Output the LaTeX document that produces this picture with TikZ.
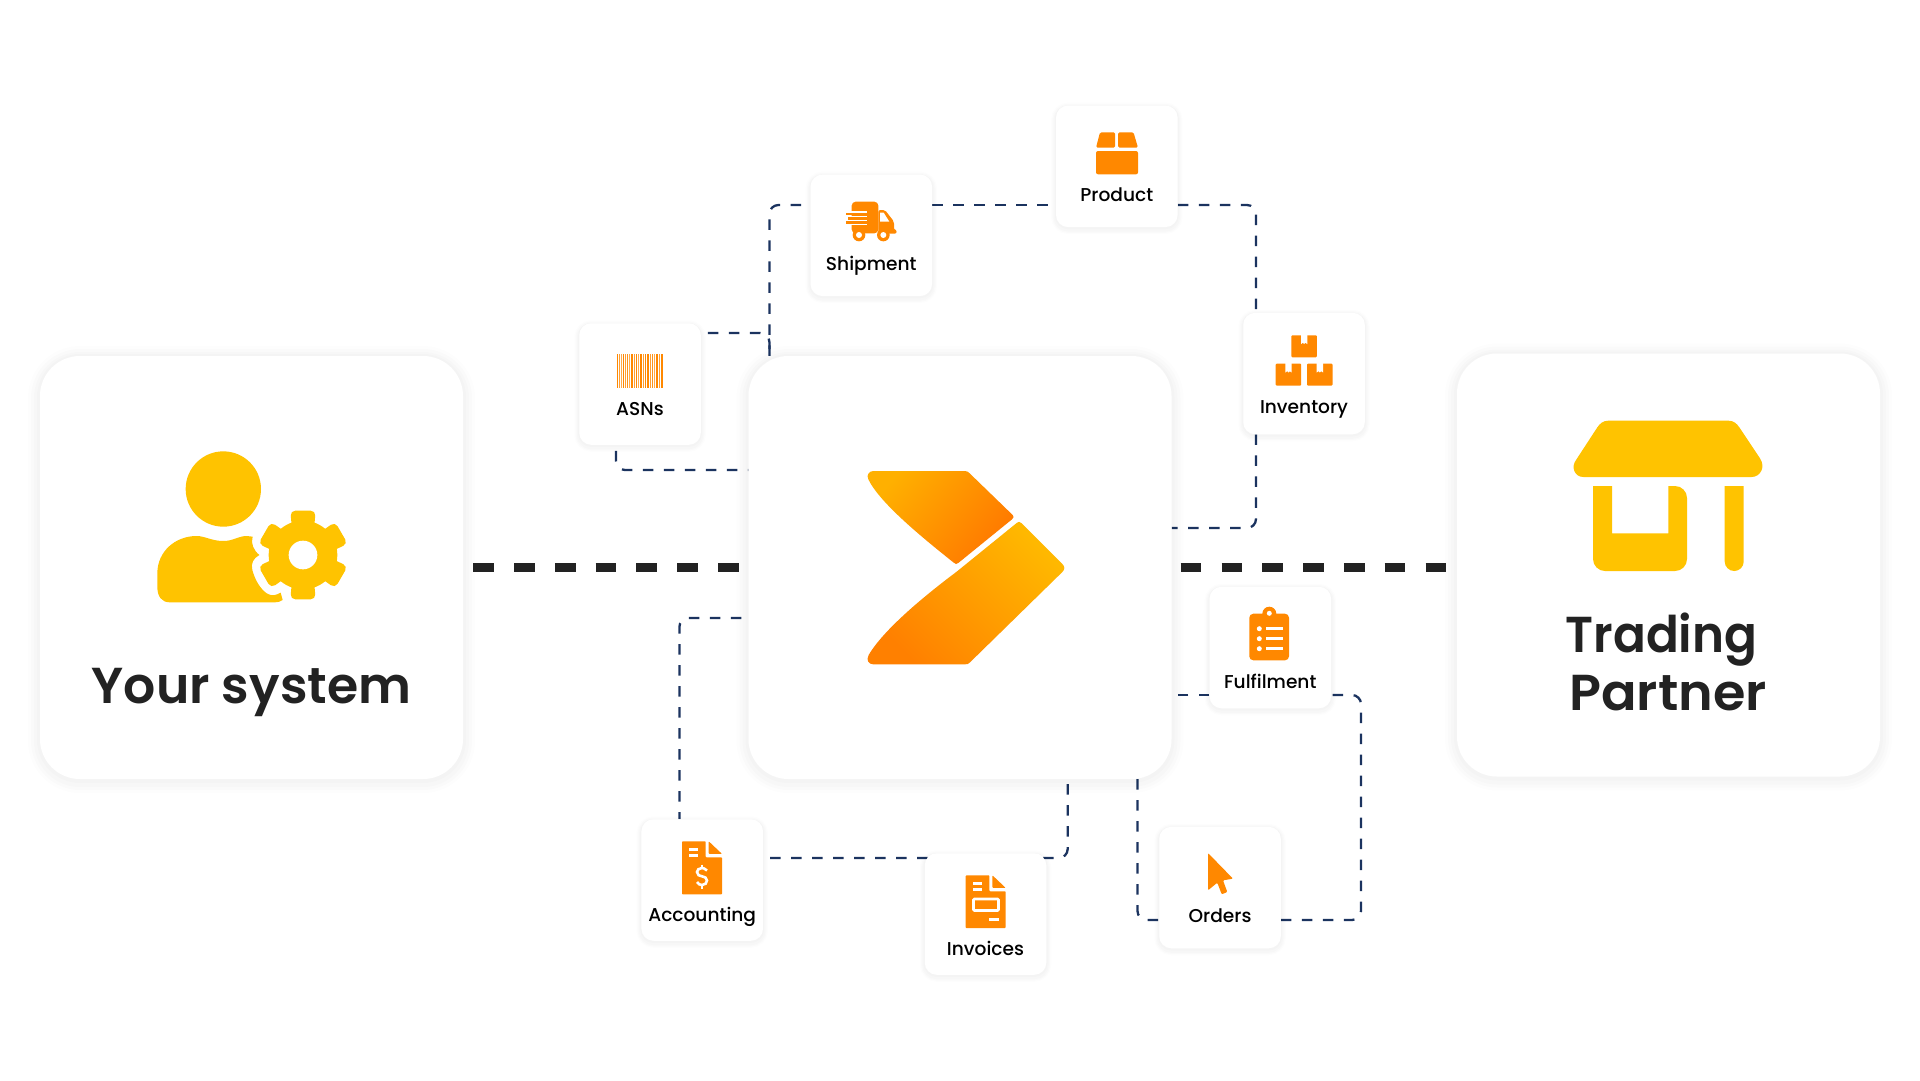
\documentclass[tikz,border=0pt]{standalone}
\usepackage{fontspec}
\setmainfont{Poppins}
\newfontfamily\bigfont{Poppins SemiBold}
\newfontfamily\tinyfont{Poppins Medium}
\usetikzlibrary{backgrounds,calc}
\definecolor{iconorange}{HTML}{FF8800}
\definecolor{sysyellow}{HTML}{FFC300}
\definecolor{navyline}{HTML}{1B335F}
\definecolor{inkdark}{HTML}{222222}
\definecolor{FFBzero}{HTML}{FFB000}
\definecolor{FFseven}{HTML}{FF7800}
\definecolor{FFeight}{HTML}{FF8000}
\definecolor{FFBeight}{HTML}{FFB800}
\tikzset{
  softshadow/.style={
    preaction={draw=black,draw opacity=.009,line width=#1*1pt,transform canvas={yshift=-2pt}},
    preaction={draw=black,draw opacity=.010,line width=#1*.75pt,transform canvas={yshift=-2pt}},
    preaction={draw=black,draw opacity=.011,line width=#1*.5pt,transform canvas={yshift=-2pt}},
    preaction={draw=black,draw opacity=.013,line width=#1*.25pt,transform canvas={yshift=-1pt}}},
  bigcard/.style={rectangle,fill=white,rounded corners=40pt,minimum size=423pt,inner sep=0pt,softshadow=24},
  smallcard/.style={rectangle,fill=white,rounded corners=12pt,minimum size=121.5pt,inner sep=0pt,softshadow=10},
  tinytext/.style={anchor=base,inner sep=0pt,text=black,font=\tinyfont\fontsize{18.6}{22}\selectfont},
  bigtext/.style={anchor=base,inner sep=0pt,text=inkdark,font=\bigfont\fontsize{50.5}{60}\selectfont},
  conn/.style={draw=navyline,line width=2.3pt,dash pattern=on 10.5pt off 10.5pt,rounded corners=9pt},
  sysline/.style={draw=inkdark,line width=9pt,dash pattern=on 20.7pt off 20.1pt},
  icon/.style={fill=iconorange},
  gap/.style={fill=white},
  gapline/.style={draw=white,line width=2.6pt},
  sun/.style={fill=sysyellow}
}
\begin{document}
\begin{tikzpicture}[x=1pt,y=-1pt]
\useasboundingbox (0,0) rectangle (1920,1080);
% big cards
\node[bigcard] (sys) at (251.5,567.5) {};
\node[bigcard] (hub) at (960,567.5) {};
\node[bigcard] (partner) at (1668.5,565) {};
% small cards
\node[smallcard] (ship) at (871.3,235.3) {};
\node[smallcard] (prod) at (1116.8,166.3) {};
\node[smallcard] (asn) at (640,384) {};
\node[smallcard] (inv) at (1304,373.5) {};
\node[smallcard] (ful) at (1270.3,647.5) {};
\node[smallcard] (ord) at (1220,887.5) {};
\node[smallcard] (bill) at (985.5,914) {};
\node[smallcard] (acc) at (702.2,880) {};
% connector levels
\coordinate (topline) at (769.4,205);
\coordinate (invx) at (1256,528);
\coordinate (asnr) at (769.4,333);
\coordinate (asnb) at (616,470);
\coordinate (acl) at (679.4,618);
\coordinate (acr) at (1067.7,858);
\coordinate (ordl) at (1137.5,920);
\coordinate (ordr) at (1361,695);
\begin{scope}[on background layer]
\draw[conn] (hub.north -| topline) |- (ship.west |- topline);
\draw[conn] (ship.east |- topline) -- (prod.west |- topline);
\draw[conn] (prod.east |- topline) -| (inv.north -| invx);
\draw[conn] (inv.south -| invx) |- (hub.east |- invx);
\draw[conn,shorten <=7pt] (asn.east |- asnr) -| (hub.north -| asnr);
\draw[conn,dash phase=15pt] (asn.south -| asnb) |- (hub.west |- asnb);
\draw[conn,shorten <=7pt] (hub.west |- acl) -| (acc.north -| acl);
\draw[conn,shorten <=7pt] (acc.east |- acr) -| (hub.south -| acr);
\draw[conn] (hub.south -| ordl) |- (ord.west |- ordl);
\draw[conn] (ord.east |- ordl) -| (ordr) -- (ful.east |- ordr);
\draw[conn] (ful.west |- ordr) -- (hub.east |- ordr);
\end{scope}
\draw[sysline,shorten <=10pt,shorten >=9pt] (sys.east) -- (hub.west);
\draw[sysline,shorten <=9pt,shorten >=8pt] (hub.east) -- (hub.east -| partner.west);
% big labels
\node[bigtext] (sysT) at (251.5,703.5) {Your system};
\node[bigtext,xscale=.96,transform shape] (partT1) at (1661.5,652) {Trading};
\node[bigtext,xscale=1.04,transform shape] (partT2) at (1668,710) {Partner};
% small labels
\node[tinytext] (shipT) at (871.3,270) {Shipment};
\node[tinytext] (prodT) at (1116.8,201) {Product};
\node[tinytext] (asnT) at (640,415) {ASNs};
\node[tinytext] (invT) at (1304,413) {Inventory};
\node[tinytext] (fulT) at (1270.3,688.5) {Fulfilment};
\node[tinytext] (ordT) at (1220,922) {Orders};
\node[tinytext] (billT) at (985.5,955) {Invoices};
\node[tinytext] (accT) at (702.2,921.7) {Accounting};
% user with gear icon
\begin{scope}[shift={(100,400)},scale=.33333]
\fill[sun] (370,267) circle[radius=113];
\fill[sun] (172,560) -- (172,520) .. controls (172,455) and (225,408) .. (290,408) .. controls (315,408) and (335,423) .. (370,423) .. controls (400,423) and (415,408) .. (440,408) -- (458,410) .. controls (452,430) and (460,450) .. (478,465) .. controls (460,475) and (452,490) .. (457,510) .. controls (465,540) and (480,565) .. (500,580) .. controls (515,590) and (530,585) .. (542,578) -- (548,600) .. controls (540,605) and (535,607) .. (525,607) -- (210,607) .. controls (185,607) and (172,590) .. (172,560) -- cycle;
\fill[sun] (609,465) circle[radius=103];
\foreach \a in {30,90,150,210,270,330}{
  \fill[sun,rotate around={\a:(609,465)},rounded corners=5pt] (675,433) -- (742,427) -- (742,503) -- (675,497) -- cycle;
}
\fill[gap] (609,465) circle[radius=43];
\end{scope}
% store icon
\begin{scope}[shift={(1520,390)},scale=.33333]
\fill[sun] (265,92) -- (625,92) .. controls (640,92) and (650,100) .. (658,112) -- (720,205) .. controls (738,232) and (720,261) .. (695,261) -- (190,261) .. controls (165,261) and (150,232) .. (170,207) -- (232,112) .. controls (240,100) and (250,92) .. (265,92) -- cycle;
\end{scope}
\fill[sun,rounded corners=12pt] (1593,486) -- (1593,571) -- (1687,571) -- (1687,486) [sharp corners] -- (1668.3,486) -- (1668.3,533.3) -- (1612,533.3) -- (1612,486) -- cycle;
\fill[sun] (1724.7,486) -- (1743.7,486) -- (1743.7,561.5) arc[start angle=0,end angle=180,radius=9.5] -- cycle;
% logo
\begin{scope}[shift={(830,440)},scale=.33333]
\shade[left color=FFBzero,right color=FFseven,shading angle=50] (130,93) -- (405,93) .. controls (412,93) and (415,96) .. (420,101) -- (548,225) .. controls (552,229) and (552,233) .. (546,238) -- (386,368) .. controls (380,374) and (376,373) .. (370,367) .. controls (280,295) and (150,190) .. (115,118) .. controls (108,105) and (118,93) .. (130,93) -- cycle;
\shade[left color=FFeight,right color=FFBeight,shading angle=135] (560,249) .. controls (565,244) and (570,244) .. (575,250) -- (697,372) .. controls (705,380) and (705,388) .. (697,396) -- (420,667) .. controls (415,672) and (412,673) .. (405,673) -- (130,673) .. controls (115,673) and (108,660) .. (116,645) .. controls (160,570) and (280,470) .. (380,395) -- cycle;
\end{scope}
% truck icon
\begin{scope}[shift={(820,190)},scale=.33333]
\fill[icon,rounded corners=4pt] (95,35) rectangle (175,130);
\foreach \yy in {66,79,91,103}{\fill[gap] (75,\yy-2) rectangle (142,\yy+2);}
\foreach \yy/\xx in {72/78,85/85,97/78}{\fill[icon] (\xx,\yy-3.8) rectangle (110,\yy+3.8);}
\fill[icon,rounded corners=2pt] (175,60) -- (195,60) -- (222,95) -- (222,120) -- (230,120) -- (230,131) -- (175,131) -- cycle;
\fill[gap] (180,68) -- (191,68) -- (208,95) -- (180,95) -- cycle;
\foreach \xx in {117,190}{
  \fill[icon] (\xx,135) circle[radius=19];
  \fill[gap] (\xx,135) circle[radius=9];
}
\end{scope}
% box icon
\fill[icon,rounded corners=1.5pt] (1100,132.3) -- (1115.2,132.3) -- (1115.2,147.7) -- (1096,147.7) -- cycle;
\fill[icon,rounded corners=1.5pt] (1118,132.3) -- (1133.5,132.3) -- (1138,147.7) -- (1118,147.7) -- cycle;
\fill[icon,rounded corners=2pt] (1096,151) rectangle (1138,174.3);
% barcode icon
\foreach \xx/\ww/\oo in {616.7/1.3/1,619/.9/.8,620.8/.8/.7,622.6/1.7/1,625.2/.9/.8,627/1.3/.9,629.4/.8/.7,631/1.9/1,634/.9/.8,635.8/1.3/1,638/.8/.7,639.6/2/1,642.6/.9/.8,644.6/1.5/1,647/2.2/1,650.2/.9/.8,652/1.1/.9,654/.8/.7,656/2/1,658.8/1/.8,660.6/2.3/1}{
  \fill[icon,opacity=\oo] (\xx,354) rectangle (\xx+\ww,388.3);
}
% inventory icon
\begin{scope}[shift={(1243,312)}]
\foreach \xx/\yy in {48.3/23.3,32.7/51.7,64/51.7}{
  \begin{scope}[shift={(\xx,\yy)}]
  \fill[icon,rounded corners=1pt] (0,0) rectangle (25.5,22);
  \fill[gap] (9.7,-.5) -- (9.7,8.8) -- (11.5,7.5) -- (12.8,8.8) -- (14.1,7.5) -- (16,8.8) -- (16,-.5) -- cycle;
  \end{scope}
}
\end{scope}
% clipboard icon
\begin{scope}[shift={(1210,587)}]
\fill[icon] (59.3,26.7) circle[radius=7];
\fill[icon,rounded corners=4pt] (39.3,26.7) rectangle (79,73.3);
\fill[gap] (59.3,26.3) circle[radius=2.5];
\foreach \yy in {41.7,51.7,61.7}{
  \fill[gap] (49.3,\yy) circle[radius=2.5];
  \fill[gap] (56,\yy-1.6) rectangle (72.7,\yy+1.6);
}
\end{scope}
% accounting document icon
\begin{scope}[shift={(641,819)}]
\fill[icon,rounded corners=.8pt] (41,22.3) -- (64.7,22.3) -- (64.7,38.3) -- (81,38.3) -- (81,75.3) -- (41,75.3) -- cycle;
\fill[icon,rounded corners=.8pt] (67.7,22.3) -- (81,34.9) -- (67.7,34.9) -- cycle;
\fill[gap] (47.7,28.5) rectangle (56.7,31.5);
\fill[gap] (47.7,35.2) rectangle (56.7,38.2);
\draw[gapline] (66,51.5) .. controls (64,49.5) and (62,49) .. (61,49) .. controls (58,49) and (56,51) .. (56,53) .. controls (56,56) and (58.5,57) .. (61,57.3) .. controls (63.5,57.5) and (66,59) .. (66,61.5) .. controls (66,64) and (64,66) .. (61,66) .. controls (59,66) and (57,65) .. (56,63);
\draw[gapline] (61,45.5) -- (61,49);
\draw[gapline] (61,66) -- (61,69.5);
\end{scope}
% invoice document icon
\begin{scope}[shift={(925,853)}]
\fill[icon,rounded corners=.8pt] (40.7,22.3) -- (64.4,22.3) -- (64.4,38.3) -- (80.7,38.3) -- (80.7,75) -- (40.7,75) -- cycle;
\fill[icon,rounded corners=.8pt] (67.4,22.3) -- (80.7,34.9) -- (67.4,34.9) -- cycle;
\fill[gap] (47.7,28.5) rectangle (56.7,31.5);
\fill[gap] (47.7,35.2) rectangle (56.7,38.2);
\draw[gapline,rounded corners=1pt] (48.5,46) rectangle (73.5,57.5);
\fill[gap] (64,65.2) rectangle (73.7,68.2);
\end{scope}
% cursor icon
\begin{scope}[shift={(1159,827)}]
\fill[icon,rounded corners=1pt] (49,26) -- (74,51.7) -- (64,53.3) -- (68.3,65) -- (62.7,67.3) -- (58.3,55.7) -- (49,63.3) -- cycle;
\end{scope}
\end{tikzpicture}
\end{document}
